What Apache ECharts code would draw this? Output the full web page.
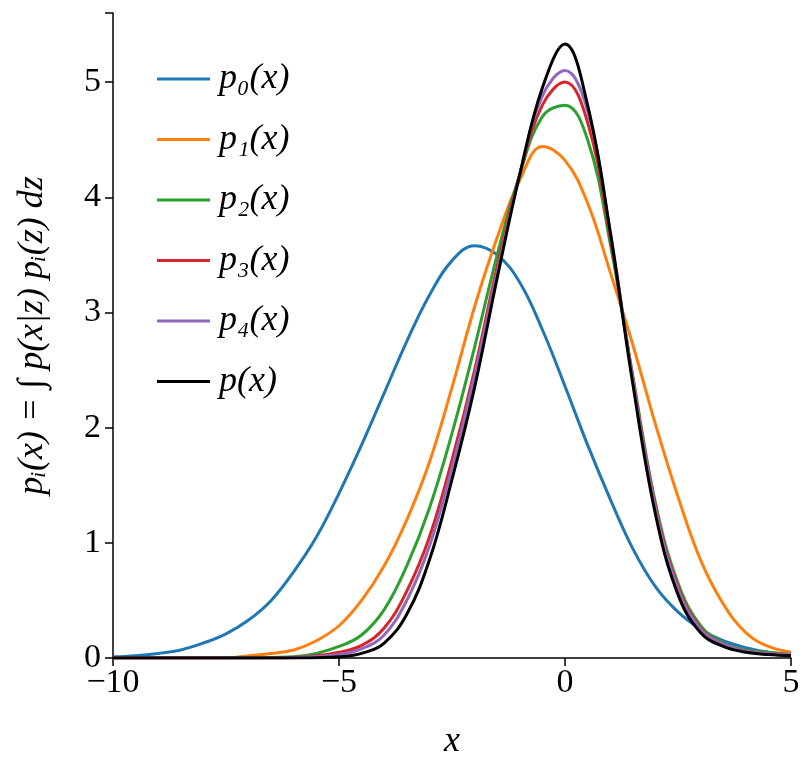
<!DOCTYPE html>
<html>
<head>
<meta charset="utf-8">
<script src="https://cdn.jsdelivr.net/npm/echarts@6/dist/echarts.min.js"></script>
<style>html,body{margin:0;padding:0;background:#fff}#main{width:812px;height:773px}</style>
</head>
<body>
<div id="main"></div>
<script>
// x grid, step 0.5 from -10 to 5
var xs = [-10,-9.5,-9,-8.5,-8,-7.5,-7,-6.5,-6,-5.5,-5,-4.5,-4,-3.5,-3,-2.5,-2,-1.5,-1,-0.5,0,0.5,1,1.5,2,2.5,3,3.5,4,4.5,5];
var p0 = [0.01,0.02,0.04,0.07,0.13,0.21,0.33,0.5,0.75,1.05,1.43,1.85,2.3,2.75,3.15,3.45,3.58,3.5,3.26,2.85,2.36,1.85,1.38,0.95,0.62,0.4,0.25,0.15,0.09,0.05,0.03];
var p1 = [0,0,0,0,0,0,0.02,0.04,0.07,0.15,0.28,0.5,0.8,1.2,1.7,2.35,3.05,3.65,4.15,4.44,4.32,3.95,3.35,2.72,2.03,1.4,0.85,0.47,0.22,0.1,0.05];
var p2 = [0,0,0,0,0,0,0,0.005,0.01,0.04,0.1,0.2,0.42,0.8,1.3,1.95,2.7,3.5,4.2,4.7,4.8,4.5,3.6,2.45,1.35,0.65,0.28,0.13,0.07,0.05,0.03];
var p3 = [0,0,0,0,0,0,0,0,0.005,0.02,0.05,0.11,0.26,0.58,1.05,1.72,2.5,3.4,4.2,4.8,5.0,4.65,3.65,2.43,1.32,0.62,0.26,0.12,0.06,0.04,0.03];
var p4 = [0,0,0,0,0,0,0,0,0.003,0.012,0.03,0.08,0.2,0.5,0.97,1.65,2.45,3.35,4.2,4.88,5.1,4.75,3.7,2.42,1.3,0.6,0.25,0.12,0.06,0.04,0.03];
var p  = [0,0,0,0,0,0,0,0,0,0.003,0.01,0.04,0.13,0.38,0.85,1.55,2.35,3.3,4.2,4.95,5.33,4.8,3.7,2.38,1.25,0.55,0.22,0.1,0.05,0.03,0.02];
var names = ['p\u2080(x)','p\u2081(x)','p\u2082(x)','p\u2083(x)','p\u2084(x)','p(x)'];
var colors = ['#1f77b4','#ff7f0e','#2ca02c','#d62728','#9467bd','#000000'];
var xTicks = [-10,-5,0,5];

var chart = echarts.init(document.getElementById('main'));
var allData = [p0,p1,p2,p3,p4,p];
var series = allData.map(function(arr,i){
	return {
		name: names[i], type: 'line', smooth: 0.4, showSymbol: false,
		lineStyle: {color: colors[i], width: 3}, itemStyle: {color: colors[i]},
		data: xs.map(function(x,j){ return [x, arr[j]]; })
	};
});
var font = 'Liberation Serif';
chart.setOption({
	animation: false,
	grid: {left: 113, right: 21, top: 13, bottom: 115},
	legend: {
		orient: 'vertical', left: 152, top: 56, icon: 'rect',
		itemWidth: 53, itemHeight: 3, itemGap: 24.5,
		textStyle: {fontFamily: font, fontStyle: 'italic', fontSize: 36, lineHeight: 33, color: '#000', padding: [0,0,0,4]},
		data: names
	},
	xAxis: {
		type: 'value', min: -10, max: 5, interval: 5,
		name: 'x', nameLocation: 'middle', nameGap: 66,
		nameTextStyle: {fontFamily: font, fontStyle: 'italic', fontSize: 36, color: '#000'},
		axisLine: {lineStyle: {color: '#000', width: 1.5}},
		axisTick: {inside: false, length: 8, lineStyle: {color: '#000', width: 1.5}},
		splitLine: {show: false},
		axisLabel: {fontFamily: font, fontSize: 34, color: '#000', margin: 8,
			formatter: function(v){ return xTicks.indexOf(v) >= 0 ? String(v).replace('-','\u2212') : ''; }}
	},
	yAxis: {
		type: 'value', min: 0, max: 5.6, interval: 1,
		name: 'p\u1d62(x) = \u222b p(x|z) p\u1d62(z) dz', nameLocation: 'middle', nameGap: 62, nameRotate: 90,
		nameTextStyle: {fontFamily: font, fontStyle: 'italic', fontSize: 36, color: '#000'},
		axisLine: {show: true, onZero: false, lineStyle: {color: '#000', width: 1.5}},
		axisTick: {show: true, inside: false, length: 8, lineStyle: {color: '#000', width: 1.5}},
		splitLine: {show: false},
		axisLabel: {fontFamily: font, fontSize: 34, color: '#000', margin: 12,
			formatter: function(v){ return Number.isInteger(v) ? String(v) : ''; }}
	},
	series: series
});
</script>
</body>
</html>
